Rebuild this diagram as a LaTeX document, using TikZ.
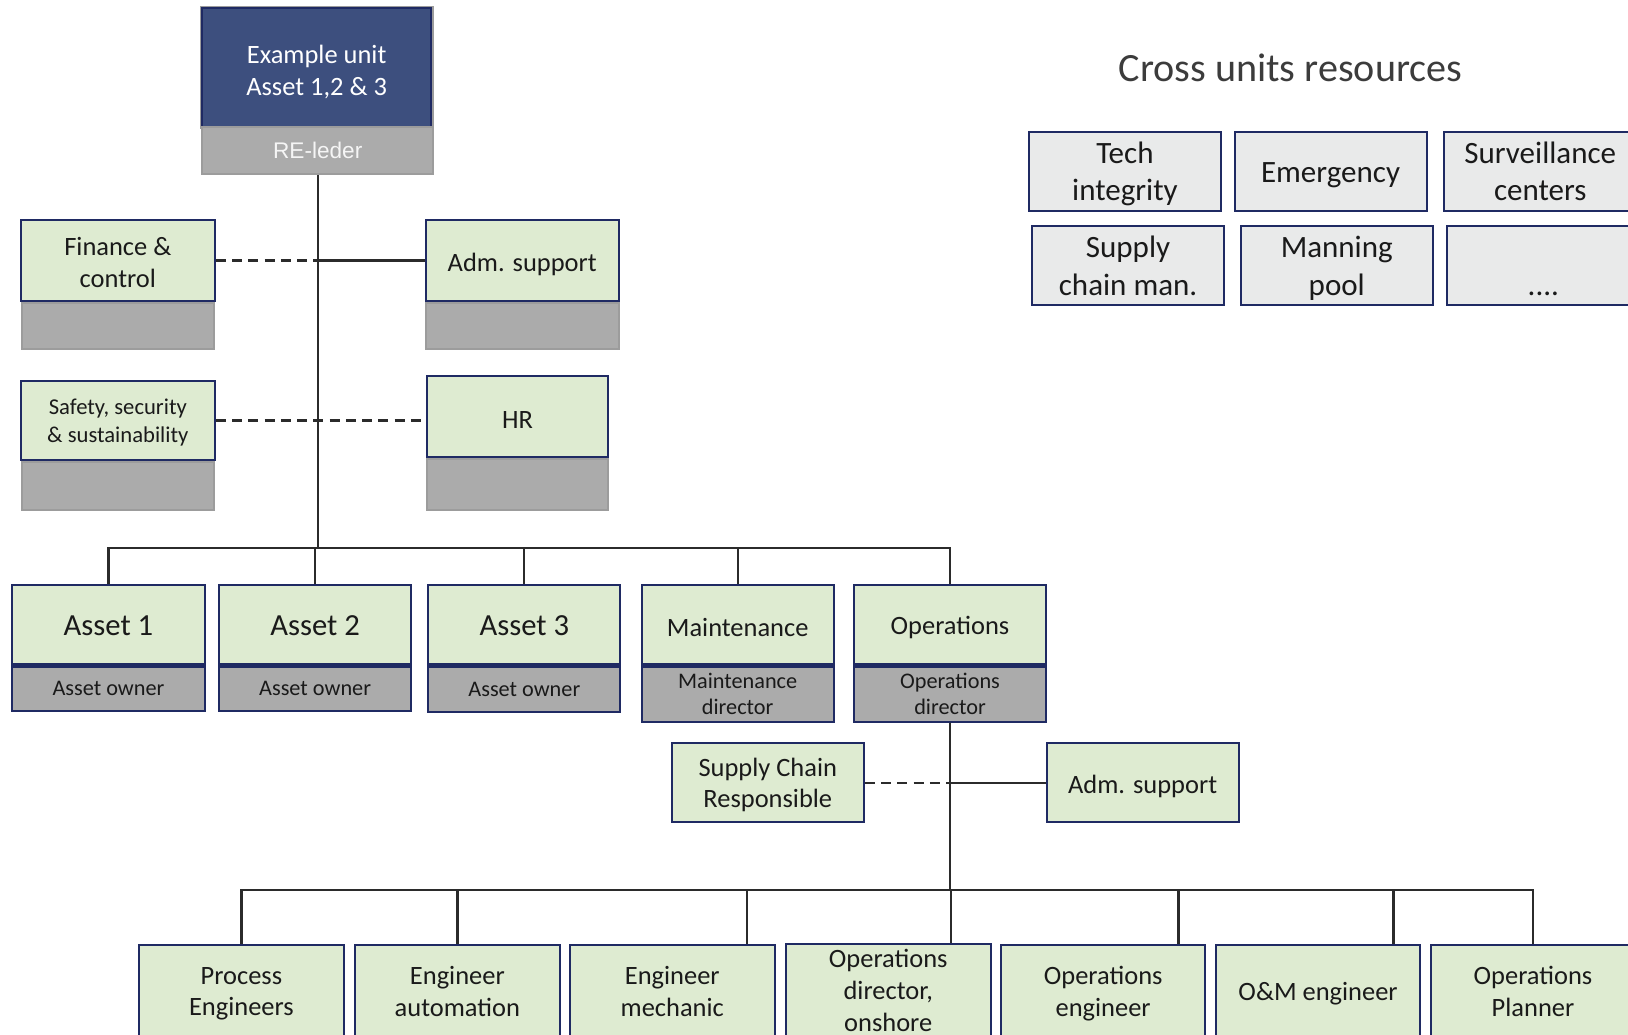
\documentclass[tikz,border=0pt]{standalone}
\usepackage{fontspec}
\setmainfont{Carlito}
\newfontfamily\arialfont{Liberation Sans}
\usetikzlibrary{positioning}

\definecolor{navyc}{HTML}{1F2A63}
\definecolor{unitgreen}{HTML}{DEEBD1}
\definecolor{rolegray}{HTML}{ABABAB}
\definecolor{edgegray}{HTML}{9C9C9C}
\definecolor{headblue}{HTML}{3D4F7E}
\definecolor{resgray}{HTML}{E9EAEA}
\definecolor{linec}{HTML}{2B2B2B}
\definecolor{txt}{HTML}{1A1A1A}

\begin{document}
\begin{tikzpicture}[
		x=0.2mm, y=-0.2mm,
		unit/.style={draw=navyc, line width=1.1pt, fill=#1, text=txt,
			minimum width=3.7cm, minimum height=1.54cm, inner sep=1pt,
			text depth=0pt, align=center, font=\fontsize{14.5}{17.4}\selectfont},
		unit/.default=unitgreen,
		oneline/.style={text height=#1},
		oneline/.default=12.3pt,
		role/.style={draw=#1, line width=1.1pt, fill=rolegray, text=txt,
			minimum width=3.7cm, minimum height=0.88cm, inner sep=1pt,
			align=center, font=\fontsize{12.2}{14.6}\selectfont},
		role/.default=edgegray,
		res/.style={draw=navyc, line width=1.1pt, fill=resgray, text=txt,
			minimum width=3.7cm, minimum height=1.52cm, inner sep=1pt,
			text depth=0pt, align=center, font=\fontsize{17}{20.4}\selectfont},
		conn/.style={draw=linec, line width=1.25pt},
		dashlink/.style={conn, line width=1.4pt, dash pattern=on 5.5pt off 3.4pt}
		]
		\useasboundingbox (0,0) rectangle (1568,996);
		\clip (0,0) rectangle (1568,996);
		
		% Unit head
		\node[unit=headblue, text=white, minimum width=4.4cm, minimum height=2.28cm, text height=30.5pt,
			preaction={draw=edgegray, line width=3pt}] (head) at (305,65) {Example unit\\Asset 1,2 \& 3};
		\node[role, minimum width=4.44cm, minimum height=0.92cm, text=white!92!gray,
			font=\arialfont\fontsize{12.4}{14}\selectfont] (reled) at (306,145) {RE-leder};
		
		% Staff functions
		\node[unit, minimum width=3.74cm, minimum height=1.56cm, text height=29pt] (fin) at (113.5,251) {Finance \&\\control};
		\node[role, below=0pt of fin] (finrole) {};
		\node[unit, oneline=11.9pt, minimum width=3.72cm, minimum height=1.56cm] (adm) at (503,251) {Adm. support};
		\node[role, minimum width=3.72cm, below=0pt of adm] (admrole) {};
		\node[unit, minimum width=3.74cm, minimum height=1.52cm,
			font=\fontsize{12.4}{15.2}\selectfont] (saf) at (113.5,405) {Safety, security\\\& sustainability};
		\node[role, minimum height=0.92cm, below=0pt of saf] (safrole) {};
		\node[unit, oneline=12.8pt, minimum width=3.5cm, minimum height=1.56cm] (hr) at (498.5,401) {HR};
		\node[role, minimum width=3.5cm, minimum height=0.98cm, below=0pt of hr] (hrrole) {};
		
		% Assets and departments
		\node[unit, oneline=12.1pt, font=\fontsize{16.8}{20}\selectfont] (as1) at (104.5,601.5) {Asset 1};
		\node[role=navyc, minimum height=0.86cm, below=0pt of as1] (as1role) {Asset owner};
		\node[unit, oneline=12.1pt, font=\fontsize{16.8}{20}\selectfont] (as2) at (303.5,601.5) {Asset 2};
		\node[role=navyc, minimum height=0.86cm, below=0pt of as2] (as2role) {Asset owner};
		\node[unit, oneline=12.1pt, font=\fontsize{16.8}{20}\selectfont] (as3) at (505,601.5) {Asset 3};
		\node[role=navyc, minimum height=0.88cm, below=0pt of as3] (as3role) {Asset owner};
		\node[unit, oneline=13pt] (mnt) at (710.5,601.5) {Maintenance};
		\node[role=navyc, minimum height=1.06cm, below=0pt of mnt] (mntrole) {Maintenance\\director};
		\node[unit, oneline=11.2pt] (ops) at (915,601.5) {Operations};
		\node[role=navyc, minimum height=1.06cm, below=0pt of ops] (opsrole) {Operations\\director};
		
		% Operations staff
		\node[unit, minimum height=1.52cm] (scr) at (739.5,754) {Supply Chain\\Responsible};
		\node[unit, oneline=11.9pt, minimum height=1.52cm] (adm2) at (1100.5,754) {Adm. support};
		
		% Operations team
		\node[unit, minimum width=3.94cm, minimum height=1.8cm] (proc) at (232.5,955)  {Process\\Engineers};
		\node[unit, minimum width=3.94cm, minimum height=1.8cm] (auto) at (440.5,955)  {Engineer\\automation};
		\node[unit, minimum width=3.94cm, minimum height=1.8cm] (mech) at (647.5,955)  {Engineer\\mechanic};
		\node[unit, minimum width=3.94cm, minimum height=1.8cm] (onsh) at (855.5,954)  {Operations\\director,\\onshore};
		\node[unit, minimum width=3.94cm, minimum height=1.8cm] (opse) at (1062.5,955) {Operations\\engineer};
		\node[unit, oneline=10.2pt, minimum width=3.94cm, minimum height=1.8cm] (omen) at (1269.5,955) {O\&M engineer};
		\node[unit, minimum width=3.94cm, minimum height=1.8cm] (plan) at (1476.5,955) {Operations\\Planner};
		
		% Cross units resources
		\node[text=txt!85, font=\fontsize{22}{26}\selectfont] (restitle) at (1243,65) {Cross units resources};
		\node[res] (tech) at (1083.5,165) {Tech\\integrity};
		\node[res, oneline=12.1pt] (emer) at (1281.5,165) {Emergency};
		\node[res] (surv) at (1483.5,165) {Surveillance\\centers};
		\node[res] (supm) at (1086.5,256) {Supply\\chain man.};
		\node[res] (mann) at (1287.5,256) {Manning\\pool};
		\node[res] (more) at (1486.5,256) {\rule{0pt}{0.7em}\\....};
		
		% Lines
		\draw[dashlink] (fin.east) -- (fin.east -| reled.south);
		\draw[conn] (adm.west) -- (adm.west -| reled.south);
		\draw[dashlink] (saf.east) -- (saf.east -| hr.west);
		\draw[conn] (reled.south) -- ++(0,359) -| (as1.north);
		\draw[conn] (reled.south) -- ++(0,359) -| (as2.north);
		\draw[conn] (reled.south) -- ++(0,359) -| (as3.north);
		\draw[conn] (reled.south) -- ++(0,359) -| (mnt.north);
		\draw[conn] (reled.south) -- ++(0,359) -| (ops.north);
		
		\draw[dashlink] (scr.east) -- (scr.east -| opsrole.south);
		\draw[conn] (adm2.west) -- (adm2.west -| opsrole.south);
		\draw[conn] (opsrole.south) -- ++(0,161.5) -| (proc.north);
		\draw[conn] (opsrole.south) -- ++(0,161.5) -| (auto.north);
		\draw[conn] (opsrole.south) -- ++(0,161.5) -| ([xshift=1.44cm]mech.north);
		\draw[conn] (opsrole.south) -- ++(0,161.5) -| ([xshift=1.21cm]onsh.north);
		\draw[conn] (opsrole.south) -- ++(0,161.5) -| ([xshift=1.45cm]opse.north);
		\draw[conn] (opsrole.south) -- ++(0,161.5) -| ([xshift=1.45cm]omen.north);
		\draw[conn] (opsrole.south) -- ++(0,161.5) -| (plan.north);
	\end{tikzpicture}
\end{document}
